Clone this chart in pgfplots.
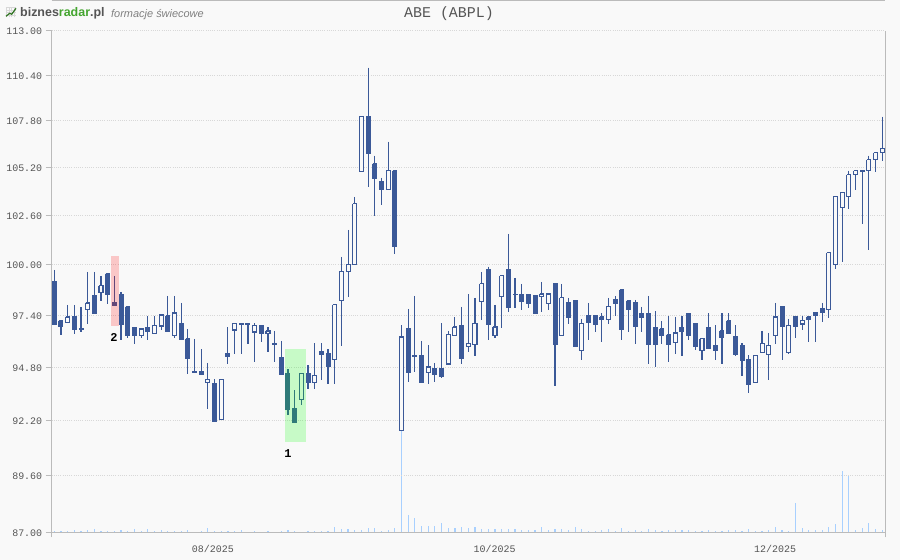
\documentclass[border=0pt]{standalone}
\usepackage{fontspec}
\setmainfont{Liberation Sans}
\setmonofont{Liberation Mono}
\usepackage{pgfplots}
\pgfplotsset{compat=1.18}
\definecolor{bg}{HTML}{F9F9F9}
\definecolor{candle}{HTML}{3B5998}
\definecolor{vol}{HTML}{A8D0FF}
\definecolor{axisgray}{HTML}{BBBBBB}
\definecolor{gridgray}{HTML}{D8D8D8}
\definecolor{txt}{HTML}{555555}
\definecolor{logogreen}{HTML}{44A52F}

\pgfplotsset{
  wick/.style={candle,line width=1.15bp,forget plot,mark=none},
  dnbody/.style={draw=candle,fill=candle,line width=1bp,forget plot,mark=none},
  upbody/.style={draw=candle,fill=bg,line width=1.1bp,forget plot,mark=none},
  geom/.style={scale only axis,width=833.6bp,height=501.6bp,at={(0,0)},anchor=south west,
    xmin=-0.39,xmax=124.46,clip=false},
}
% index, body top, body bottom, high, low
\newcommand\candlebar[6]{%
  \pgfmathsetmacro\xa{#2-0.3}\pgfmathsetmacro\xb{#2+0.3}%
  \addplot[wick] coordinates {(#2,#5)(#2,#6)};
  \edef\body{\noexpand\addplot[#1] coordinates {(\xa,#3)(\xb,#3)(\xb,#4)(\xa,#4)(\xa,#3)};}\body
}
\newcommand\dnc{\candlebar{dnbody}}
\newcommand\upc{\candlebar{upbody}}

\begin{document}
\begin{tikzpicture}
\fill[bg] (-51.7bp,-27.7bp) rectangle (848.3bp,532.3bp);

% volume, own scale
\begin{axis}[geom,hide axis,ymin=0,ymax=501.6]
\addplot[ycomb,vol,line width=1.2bp,mark=none] coordinates {
(0,1)(1,1)(2,1)(3,2)(4,1)(5,2)(6,3)(7,1)(8,1)(9,1)(10,2)(11,1)(12,3)(13,1)(14,3)(15,1)
(16,2)(17,1)(18,1)(19,1)(20,2)(22,1)(23,4)(24,1)(25,1)(26,1)(27,1)(28,2)(30,1)(32,1)
(34,1)(35,2)(36,1)(38,1)(39,1)(40,1)(41,1)(42,5)(43,3)(44,3)(45,2)(46,2)(47,4)(48,4)
(49,1)(50,2)(51,4)(52,110)(53,17)(54,14)(55,6)(56,6)(57,6)(58,9)(59,4)(60,4)(61,5)(62,4)
(63,5)(64,3)(65,3)(66,3)(67,3)(68,3)(69,3)(70,2)(71,2)(72,2)(73,5)(74,2)(75,3)(76,3)
(77,2)(78,5)(79,3)(80,1)(81,1)(82,2)(83,3)(84,1)(85,4)(86,1)(87,2)(88,1)(89,3)(90,2)
(91,1)(92,2)(93,2)(94,2)(95,2)(96,1)(97,1)(98,2)(99,1)(100,1)(101,2)(102,2)(103,1)(104,3)
(105,1)(106,1)(107,2)(108,5)(109,2)(110,1)(111,29)(112,4)(113,2)(114,2)(115,2)(116,5)
(117,8)(118,61)(119,56)(120,2)(121,4)(122,9)(123,3)(124,2)};
\end{axis}

\begin{axis}[geom,
  ymode=log,ymin=87,ymax=113,
  axis line style={draw=none},
  ytick={87,89.6,92.2,94.8,97.4,100,102.6,105.2,107.8,110.4,113},
  yticklabels={87.00,89.60,92.20,94.80,97.40,100.00,102.60,105.20,107.80,110.40,113.00},
  xtick={23.6,65.8,107.8},
  xticklabels={08/2025,10/2025,12/2025},
  ymajorgrids=true,
  grid style={gridgray,line width=1bp,dash pattern=on 1bp off 1.2bp},
  ytick pos=left,xtick pos=bottom,
  tick align=outside,
  major tick length=6bp,
  y tick style={axisgray,line width=1bp},
  x tick style={draw=none},
  tick label style={font=\ttfamily\fontsize{10}{10}\selectfont,text=txt},
  yticklabel style={yshift=-0.7bp},
  xticklabel style={yshift=-4bp,xshift=1bp},
]
\dnc{0}{99.13}{96.97}{99.75}{96.97}
\dnc{1}{97.13}{96.87}{97.13}{96.42}
\upc{2}{97.33}{97.07}{97.94}{97.07}
\dnc{3}{97.33}{96.67}{97.94}{96.47}
\dnc{4}{96.72}{96.67}{97.84}{96.57}
\upc{5}{98.04}{97.69}{99.64}{96.97}
\dnc{6}{98.40}{97.48}{99.64}{97.48}
\upc{7}{98.92}{98.56}{99.44}{98.15}
\dnc{8}{99.54}{98.45}{99.54}{97.99}
\dnc{9}{98.04}{97.89}{99.44}{97.89}
\dnc{10}{98.50}{96.97}{98.61}{96.17}
\dnc{11}{97.84}{96.37}{97.84}{96.27}
\dnc{12}{96.82}{96.37}{96.82}{95.96}
\upc{13}{96.72}{96.37}{96.72}{96.27}
\dnc{14}{96.82}{96.57}{97.38}{96.17}
\upc{15}{96.92}{96.47}{97.38}{96.47}
\upc{16}{97.43}{96.87}{97.43}{96.67}
\dnc{17}{97.38}{96.57}{98.40}{96.57}
\upc{18}{97.53}{96.37}{98.40}{96.27}
\dnc{19}{97.02}{96.17}{98.04}{96.17}
\dnc{20}{96.22}{95.26}{96.72}{94.47}
\dnc{21}{94.62}{94.57}{96.22}{94.57}
\dnc{22}{94.62}{94.47}{95.71}{94.47}
\upc{23}{94.22}{94.08}{95.02}{92.76}
\dnc{24}{94.03}{92.18}{94.22}{92.18}
\upc{25}{94.22}{92.28}{94.22}{92.28}
\dnc{26}{95.51}{95.36}{96.82}{94.97}
\upc{27}{97.02}{96.67}{97.02}{95.46}
\dnc{28}{97.02}{96.97}{97.02}{95.46}
\dnc{29}{97.02}{96.97}{97.02}{95.96}
\upc{30}{96.92}{96.57}{97.02}{95.07}
\dnc{31}{96.92}{96.47}{96.92}{96.06}
\upc{32}{96.62}{96.47}{96.82}{95.56}
\dnc{33}{96.01}{95.96}{96.62}{95.07}
\dnc{34}{95.31}{94.47}{96.12}{94.47}
\dnc{35}{94.52}{92.76}{94.72}{92.47}
\dnc{36}{92.80}{92.13}{93.68}{92.13}
\upc{37}{94.52}{93.24}{94.52}{92.95}
\dnc{38}{94.52}{94.08}{94.92}{93.73}
\upc{39}{94.42}{94.08}{96.01}{93.73}
\dnc{40}{95.61}{95.46}{96.01}{94.17}
\dnc{41}{95.51}{94.87}{95.71}{93.98}
\upc{42}{97.94}{95.21}{97.94}{93.98}
\upc{43}{99.64}{98.15}{100.42}{95.86}
\upc{44}{100.01}{99.64}{101.85}{98.35}
\upc{45}{103.24}{100.01}{103.62}{100.01}
\upc{46}{108.04}{104.98}{108.04}{104.98}
\dnc{47}{108.04}{105.98}{110.84}{104.17}
\dnc{48}{105.43}{104.61}{105.87}{102.59}
\dnc{49}{104.44}{104.00}{104.66}{103.19}
\upc{50}{105.04}{104.00}{106.64}{104.00}
\dnc{51}{105.04}{100.95}{105.04}{100.58}
\upc{52}{96.32}{91.75}{96.92}{91.75}
\dnc{53}{96.72}{94.57}{97.74}{94.08}
\dnc{54}{95.41}{95.36}{98.40}{94.57}
\dnc{55}{95.41}{94.08}{96.12}{94.08}
\upc{56}{94.82}{94.57}{95.91}{93.98}
\dnc{57}{94.77}{94.47}{95.02}{94.08}
\dnc{58}{94.77}{94.37}{97.02}{94.27}
\upc{59}{96.42}{94.97}{96.62}{94.97}
\upc{60}{96.82}{96.37}{97.33}{96.37}
\dnc{61}{96.92}{95.26}{97.84}{94.97}
\upc{62}{96.01}{95.86}{98.50}{95.56}
\upc{63}{97.02}{95.96}{98.30}{95.36}
\upc{64}{99.02}{98.10}{99.64}{97.18}
\dnc{65}{99.75}{96.97}{99.91}{96.17}
\upc{66}{96.82}{96.37}{97.94}{96.27}
\upc{67}{99.44}{98.35}{99.44}{96.77}
\dnc{68}{99.75}{97.79}{101.64}{97.58}
\dnc{69}{98.50}{98.45}{99.33}{97.79}
\dnc{70}{98.50}{98.10}{99.02}{97.69}
\dnc{71}{98.50}{97.99}{98.50}{97.79}
\dnc{72}{98.40}{97.48}{98.40}{97.48}
\upc{73}{98.50}{98.35}{99.13}{97.58}
\upc{74}{98.50}{97.99}{98.50}{97.69}
\dnc{75}{99.02}{95.96}{99.02}{93.88}
\upc{76}{98.30}{96.37}{99.02}{96.37}
\dnc{77}{98.04}{97.28}{98.30}{96.97}
\dnc{78}{98.15}{95.86}{98.15}{95.86}
\upc{79}{97.02}{95.66}{97.23}{95.16}
\dnc{80}{97.38}{97.07}{98.04}{96.17}
\dnc{81}{97.43}{96.97}{97.43}{96.57}
\dnc{82}{97.33}{97.18}{97.53}{96.06}
\upc{83}{97.84}{97.18}{98.30}{96.97}
\dnc{84}{98.20}{97.99}{98.40}{97.38}
\dnc{85}{98.71}{96.67}{98.71}{96.17}
\dnc{86}{98.15}{97.69}{98.15}{96.57}
\dnc{87}{98.04}{96.87}{98.20}{95.96}
\dnc{88}{97.53}{97.28}{97.84}{96.57}
\dnc{89}{97.53}{95.96}{98.40}{94.97}
\dnc{90}{96.82}{95.96}{97.63}{94.82}
\dnc{91}{96.72}{96.37}{97.13}{95.96}
\dnc{92}{96.42}{95.96}{97.38}{95.07}
\upc{93}{96.52}{96.06}{97.33}{95.46}
\dnc{94}{96.82}{96.57}{97.38}{95.36}
\dnc{95}{97.53}{96.37}{97.53}{96.17}
\dnc{96}{97.02}{95.86}{97.02}{95.66}
\upc{97}{96.22}{95.66}{96.22}{95.16}
\dnc{98}{96.82}{95.76}{97.53}{95.76}
\dnc{99}{95.91}{95.66}{96.92}{95.16}
\dnc{100}{96.62}{96.27}{97.53}{94.97}
\dnc{101}{97.13}{96.47}{97.53}{96.47}
\dnc{102}{96.32}{95.46}{96.92}{95.36}
\dnc{103}{95.91}{95.16}{96.01}{94.37}
\dnc{104}{95.21}{93.98}{95.41}{93.54}
\upc{105}{95.41}{94.08}{95.41}{94.08}
\upc{106}{96.01}{95.56}{96.62}{95.56}
\upc{107}{95.91}{95.46}{96.52}{94.17}
\upc{108}{97.33}{96.37}{98.04}{95.96}
\dnc{109}{97.84}{96.87}{97.84}{95.16}
\upc{110}{96.92}{95.56}{97.23}{95.46}
\dnc{111}{97.33}{96.87}{97.33}{96.27}
\upc{112}{97.13}{96.97}{97.38}{96.67}
\dnc{113}{97.33}{97.18}{97.33}{96.06}
\upc{114}{97.53}{97.43}{97.53}{96.06}
\dnc{115}{97.74}{97.58}{98.04}{97.07}
\upc{116}{100.64}{97.69}{100.64}{97.28}
\upc{117}{103.62}{100.01}{103.62}{99.80}
\upc{118}{103.84}{103.03}{103.84}{100.17}
\upc{119}{104.82}{103.62}{105.04}{102.97}
\upc{120}{105.04}{104.82}{105.04}{104.00}
\dnc{121}{105.04}{104.98}{105.04}{102.17}
\upc{122}{105.65}{105.04}{105.87}{100.79}
\upc{123}{106.03}{105.65}{106.03}{104.98}
\upc{124}{106.25}{106.03}{108.04}{105.59}
% pattern highlights
\addplot[draw=none,fill=red,fill opacity=.2,forget plot] coordinates {(8.49,96.87)(9.69,96.87)(9.69,100.48)(8.49,100.48)};
\addplot[draw=none,fill=green,fill opacity=.2,forget plot] coordinates {(34.55,91.17)(37.7,91.17)(37.7,95.71)(34.55,95.71)};
\end{axis}

% frame
\draw[axisgray,line width=1bp] (0,-5bp) -- (0,501.6bp);
\draw[axisgray,line width=1bp] (833.6bp,-5bp) -- (833.6bp,501.6bp);
\draw[axisgray,line width=1bp] (0,0) -- (833.6bp,0);
\draw[axisgray,line width=1bp] (0,531.8bp) -- (833.6bp,531.8bp);

% header
\draw[gridgray,line width=.4bp,step=2.5bp] (-45.7bp,515bp) grid (-35.7bp,525bp);
\draw[logogreen!70!black,line width=1.2bp] (-45.7bp,516bp) -- (-42bp,519bp) -- (-40bp,518bp) -- (-35.7bp,524bp);
\node[anchor=west,inner sep=0pt,font=\bfseries\fontsize{12.5}{12.5}\selectfont] at (-31.7bp,519.5bp)
  {\textcolor{txt}{biznes}\textcolor{logogreen}{radar}\textcolor{txt}{.pl}};
\node[anchor=west,inner sep=0pt,font=\itshape\fontsize{11}{11}\selectfont,text=gray] at (59.3bp,517.5bp) {formacje świecowe};
\node[inner sep=0pt,font=\ttfamily\fontsize{15}{15}\selectfont,text=txt] at (397.3bp,518.5bp) {ABE (ABPL)};
\node[inner sep=0pt,font=\ttfamily\bfseries\fontsize{12}{12}\selectfont] at (62.3bp,194.8bp) {2};
\node[inner sep=0pt,font=\ttfamily\bfseries\fontsize{12}{12}\selectfont] at (236.3bp,78.8bp) {1};
\end{tikzpicture}
\end{document}
